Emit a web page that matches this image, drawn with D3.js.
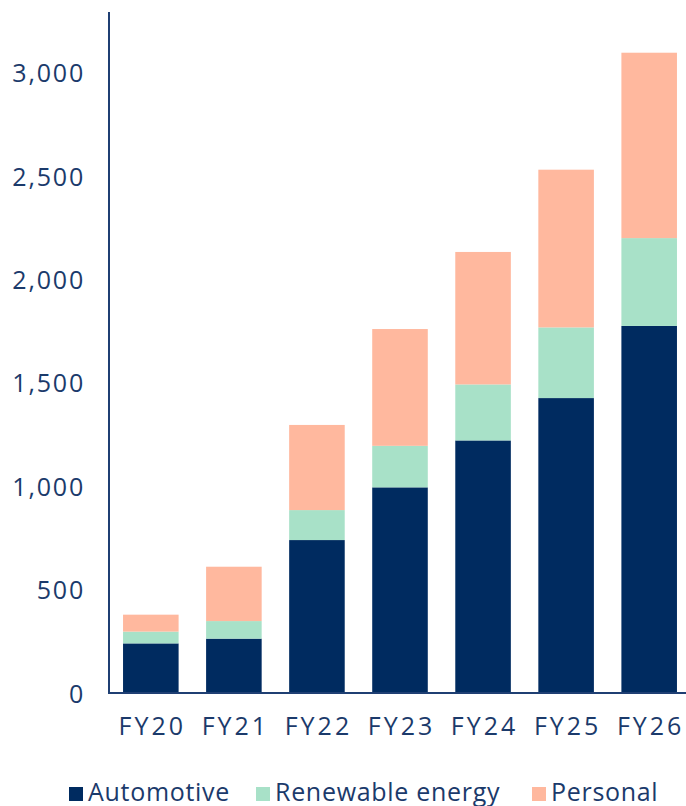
<!DOCTYPE html>
<meta charset="utf-8">
<head>
    <title>Stacked bar chart</title>
    <script src="https://d3js.org/d3.v7.min.js"></script>
</head>

<style>
body { margin: 0; background: #fff; }
text { font-family: "Open Sans", sans-serif; fill: #1b3a6b; }
</style>

<body>

<svg></svg>

<script>

// data
let years = ["FY20", "FY21", "FY22", "FY23", "FY24", "FY25", "FY26"];
let automotive = [240, 263, 740, 995, 1222, 1427, 1776];
let renewable = [57, 85, 145, 201, 271, 342, 425];
let personal = [82, 263, 412, 565, 641, 763, 897];
let yTicks = [0, 500, 1000, 1500, 2000, 2500, 3000];

let seriesNames = ["Automotive", "Renewable energy", "Personal"];
let colors = ["#002b60", "#a8e1c8", "#ffb89e"];

let width = 686;
let height = 806;

let rows = years.map(function(y, i) {
  return {year: y, Automotive: automotive[i], "Renewable energy": renewable[i], Personal: personal[i]};
});

let svg = d3.select("svg")
    .attr("width", width)
    .attr("height", height);

// scales
let x = d3.scaleBand()
    .domain(years)
    .range([109, 691])
    .paddingInner(0.331)
    .paddingOuter(0.169);

let y = d3.scaleLinear()
    .domain([0, 3295])
    .range([693, 12]);

let stack = d3.stack().keys(seriesNames);
let layers = stack(rows);

svg.selectAll(".layer")
  .data(layers)
  .enter()
  .append("g")
  .attr("class", "layer")
  .attr("fill", function(d, i) { return colors[i]; })
  .selectAll("rect")
  .data(function(d) { return d; })
  .enter()
  .append("rect")
  .attr("x", function(d) { return x(d.data.year); })
  .attr("y", function(d) { return y(d[1]); })
  .attr("width", x.bandwidth())
  .attr("height", function(d) { return y(d[0]) - y(d[1]); });

// y axis
let yAxis = svg.append("g")
  .attr("transform", "translate(109,0)")
  .call(d3.axisLeft(y).tickValues(yTicks).tickSize(0).tickPadding(24).tickFormat(d3.format(",")));
yAxis.select(".domain").remove();
yAxis.selectAll("text")
  .style("font-size", "25px")
  .style("letter-spacing", "1.8px")
  .attr("dy", "0.36em");

svg.append("line")
  .attr("x1", 109).attr("x2", 109)
  .attr("y1", 12).attr("y2", 693)
  .attr("stroke", "#1f3f73")
  .attr("stroke-width", 2);

// x axis
let xAxis = svg.append("g")
  .attr("transform", "translate(0,693)")
  .call(d3.axisBottom(x).tickSize(0).tickPadding(24));
xAxis.select(".domain").remove();
xAxis.selectAll("text")
  .style("font-size", "25px")
  .style("letter-spacing", "3px")
  .attr("dx", "1.5px");

svg.append("line")
  .attr("x1", 108).attr("x2", 686)
  .attr("y1", 693).attr("y2", 693)
  .attr("stroke", "#1f3f73")
  .attr("stroke-width", 2);

// legend
let legendX = [69, 256, 532];
let legend = svg.selectAll(".legend")
  .data(seriesNames)
  .enter()
  .append("g")
  .attr("class", "legend")
  .attr("transform", function(d, i) { return "translate(" + legendX[i] + ",787)"; });

legend.append("rect")
  .attr("width", 14)
  .attr("height", 14)
  .attr("fill", function(d, i) { return colors[i]; });

legend.append("text")
  .attr("x", 19)
  .attr("y", 14)
  .style("font-size", "25px")
  .style("letter-spacing", "0.7px")
  .text(function(d) { return d; });

</script>

</body>
